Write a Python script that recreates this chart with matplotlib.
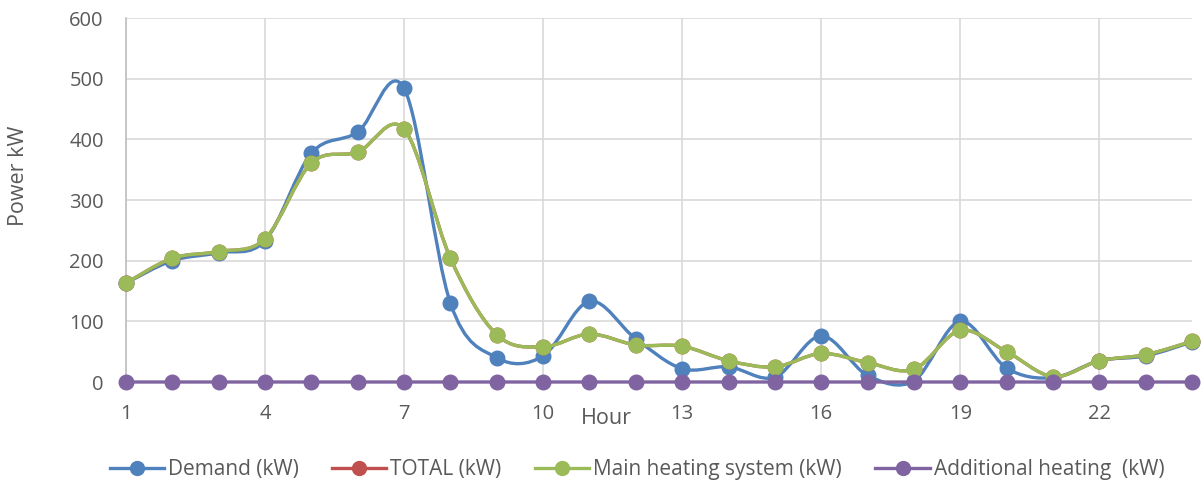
import numpy as np
import matplotlib
matplotlib.use("Agg")
import matplotlib.pyplot as plt
from matplotlib.path import Path
from matplotlib.patches import PathPatch
from matplotlib.lines import Line2D

hours = list(range(1, 25))
demand = [163, 200, 213, 233, 377, 412, 484, 130, 40, 43, 133, 71, 22, 25, 8, 76, 11, 2, 100, 23, 7, 35, 43, 66]
main_heating = [163, 204, 215, 236, 361, 379, 417, 204, 78, 58, 79, 61, 59, 35, 25, 47, 32, 21, 85, 50, 9, 35, 45, 67]
total = list(main_heating)
additional = [0] * 24
series_names = ["Demand (kW)", "TOTAL (kW)", "Main heating system (kW)", "Additional heating  (kW)"]
colors = ["#4F81BD", "#C0504D", "#9BBB59", "#8064A2"]
xticks = [1, 4, 7, 10, 13, 16, 19, 22]
yticks = [0, 100, 200, 300, 400, 500, 600]

FONT = ["Open Sans", "DejaVu Sans"]
plt.rcParams["font.family"] = FONT
FS = 14.5
TXT = "#595959"

fig = plt.figure(figsize=(12.01, 4.88), dpi=100)
ax = fig.add_axes([126 / 1201, 1 - 382 / 488, (1192 - 126) / 1201, (382 - 18) / 488])


def smooth_path(x, y):
    x = np.asarray(x, float)
    y = np.asarray(y, float)
    pts = np.column_stack([x, y])
    n = len(pts)
    verts = [pts[0]]
    codes = [Path.MOVETO]
    for i in range(n - 1):
        p0 = pts[i - 1] if i > 0 else pts[i]
        p1 = pts[i]
        p2 = pts[i + 1]
        p3 = pts[i + 2] if i + 2 < n else pts[i + 1]
        c1 = p1 + (p2 - p0) / 6.0
        c2 = p2 - (p3 - p1) / 6.0
        verts += [c1, c2, p2]
        codes += [Path.CURVE4] * 3
    return Path(verts, codes)


all_series = [demand, total, main_heating, additional]
for i, (vals, col) in enumerate(zip(all_series, colors)):
    patch = PathPatch(smooth_path(hours, vals), facecolor="none", edgecolor=col,
                      lw=2.4, zorder=3 + i, clip_on=False, capstyle="round", joinstyle="round")
    ax.add_patch(patch)
    ax.plot(hours, vals, linestyle="none", marker="o", markersize=10.5,
            color=col, zorder=3 + i, clip_on=False)

ax.set_xlim(1, 24)
ax.set_ylim(0, 600)
ax.set_xticks(xticks)
ax.set_yticks(yticks)
ax.grid(True, color="#D9D9D9", lw=1.2)
ax.set_axisbelow(True)
for s in ["top", "right", "bottom"]:
    ax.spines[s].set_visible(False)
ax.spines["left"].set_color("#BFBFBF")
ax.spines["left"].set_linewidth(1.2)
ax.tick_params(length=0, labelsize=FS, colors=TXT)
ax.tick_params(axis="y", pad=16)
ax.tick_params(axis="x", pad=16)

ax.set_ylabel("Power kW", fontsize=15.5, color=TXT)
ax.yaxis.set_label_coords((19 - 126) / 1066, (382 - 176) / 364)
ax.yaxis.label.set_va("center")
ax.set_xlabel("Hour", fontsize=15.5, color=TXT)
ax.xaxis.set_label_coords((606 - 126) / 1066, (382 - 418) / 364)
ax.xaxis.label.set_va("center")

handles = [Line2D([0], [0], color=c, lw=2.4, marker="o", markersize=10) for c in colors]
fig.legend(handles, series_names, loc="center", bbox_to_anchor=(637 / 1201, 1 - 470 / 488),
           ncol=4, frameon=False, fontsize=15, labelcolor=TXT,
           handlelength=2.6, handletextpad=0.2, columnspacing=1.6,
           borderaxespad=0, borderpad=0)

fig.savefig("out.png", dpi=100)
